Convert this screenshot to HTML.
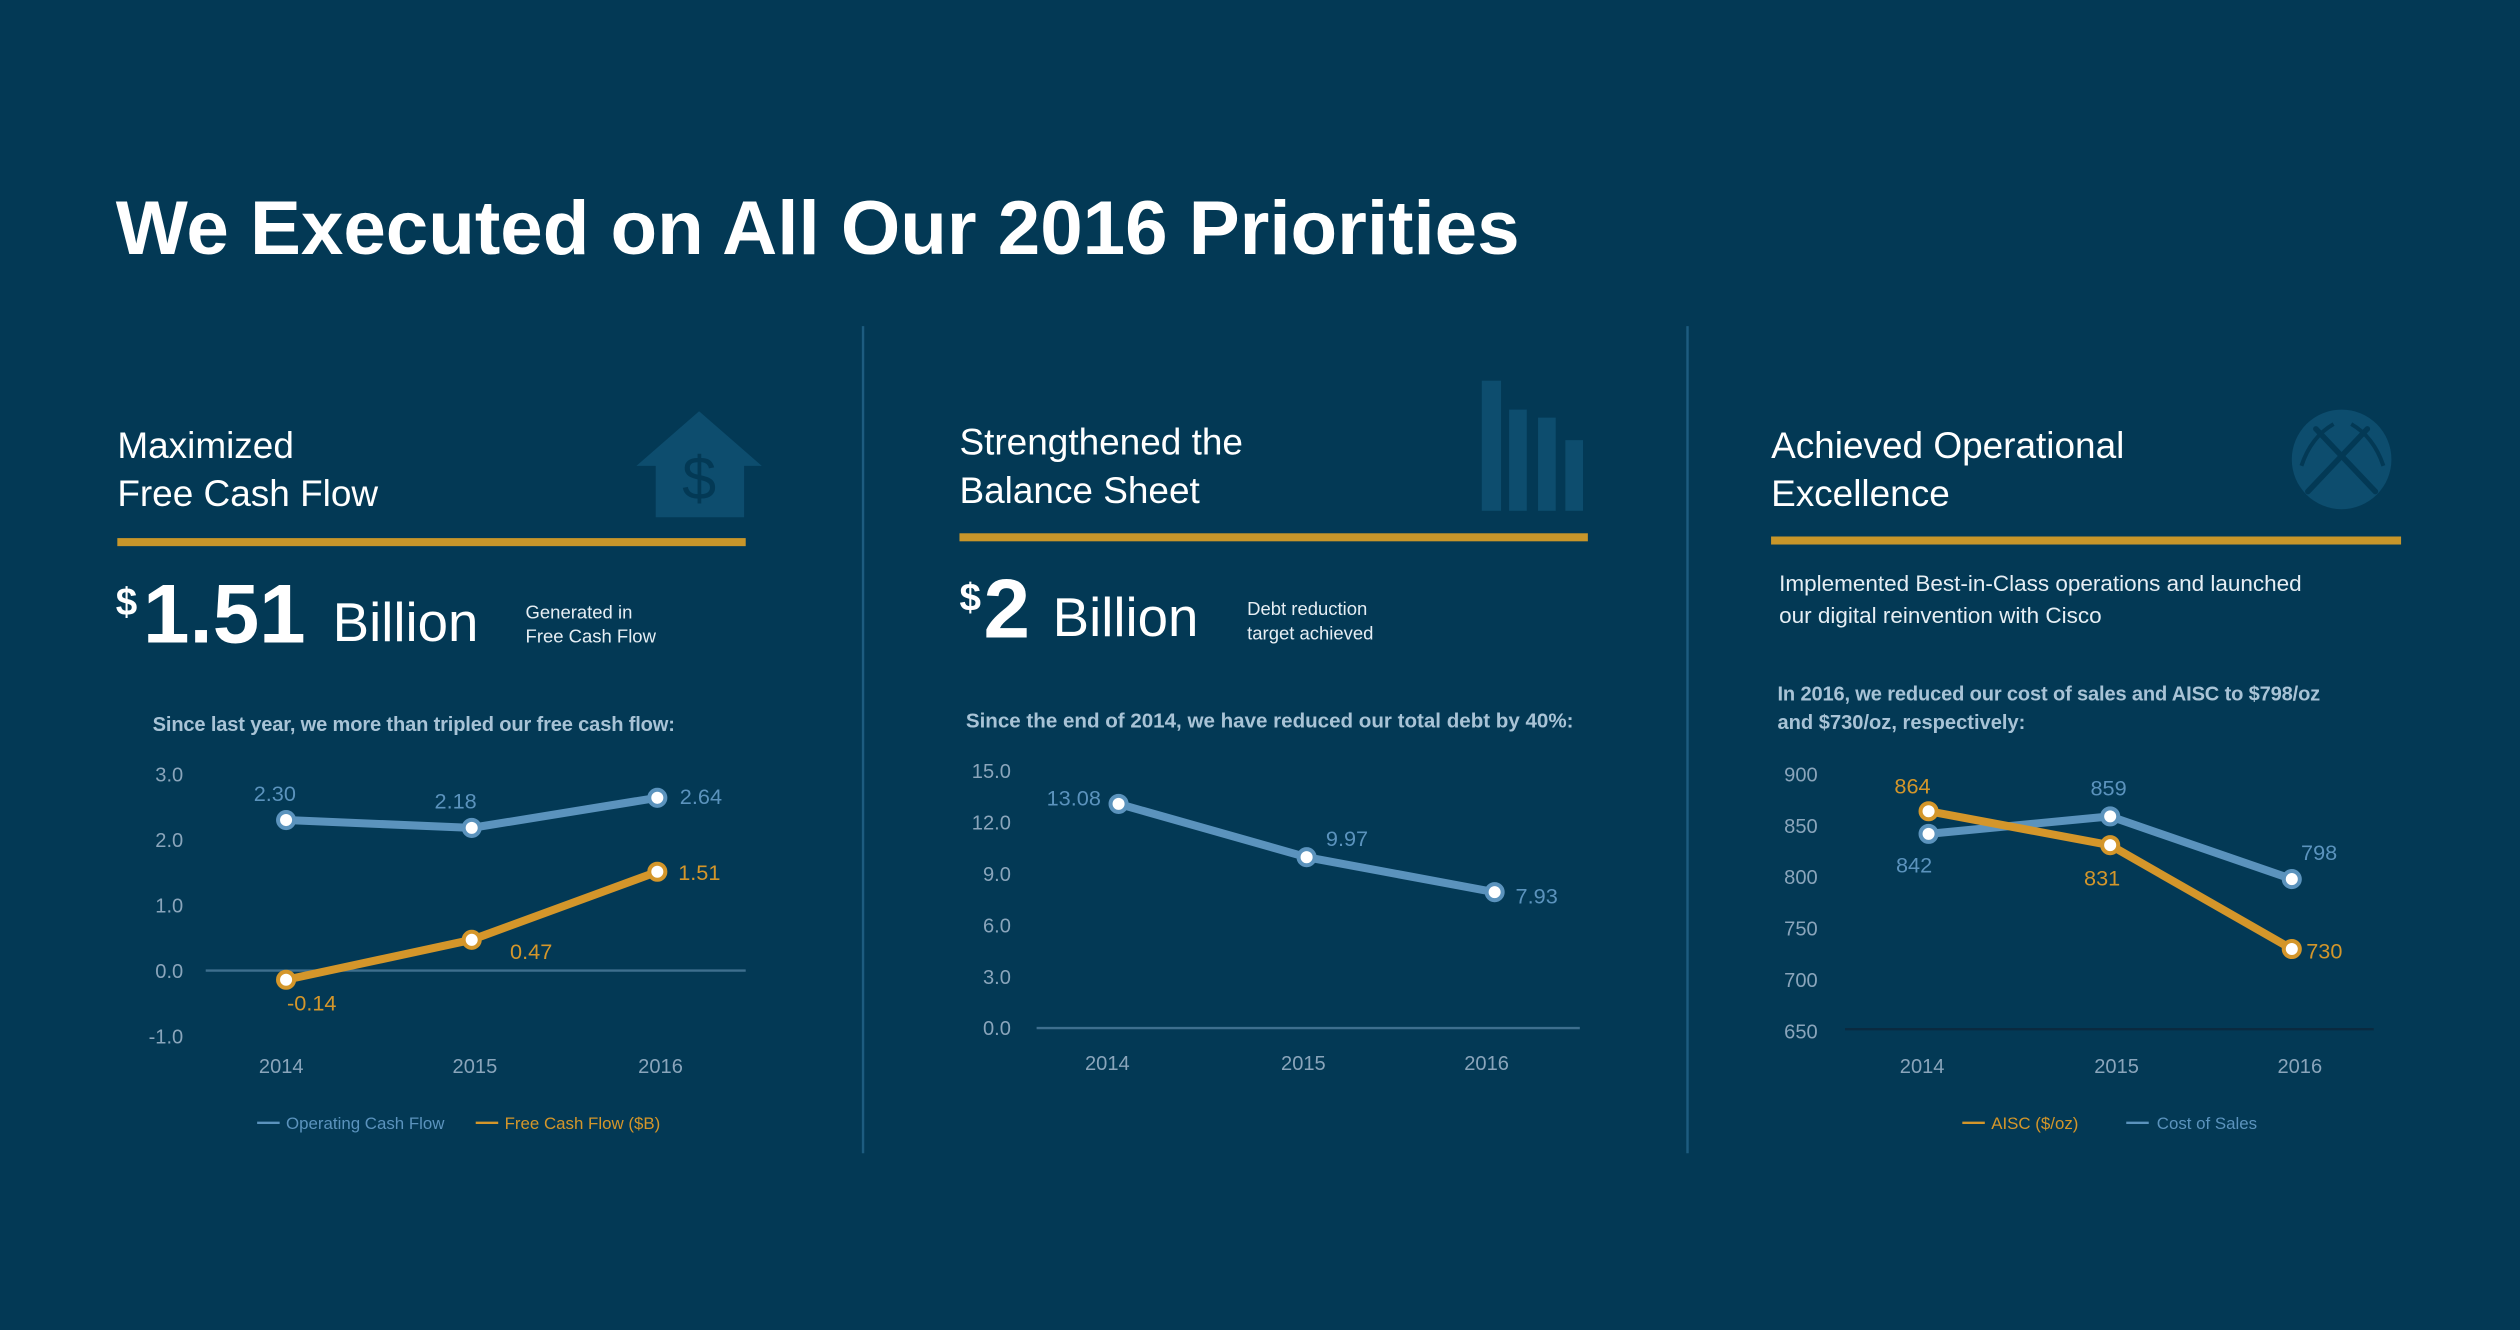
<!DOCTYPE html>
<html><head><meta charset="utf-8">
<style>
html,body{margin:0;padding:0;background:#033955;}
svg{display:block;}
text{font-family:"Liberation Sans",sans-serif;}
</style></head>
<body>
<svg id="s" width="2520" height="1330" viewBox="0 0 1568 828" preserveAspectRatio="none" xmlns="http://www.w3.org/2000/svg">
<rect x="0" y="0" width="1568" height="828" fill="#033955"/>
<text x="72" y="158" font-size="47.5" font-weight="bold" fill="#ffffff">We Executed on All Our 2016 Priorities</text>
<line x1="537" y1="203" x2="537" y2="718" stroke="#1d5c80" stroke-width="1.5"/>
<line x1="1050" y1="203" x2="1050" y2="718" stroke="#1d5c80" stroke-width="1.5"/>

<!-- Panel 1 -->
<g>
<text x="73" y="285" font-size="23" fill="#ffffff">Maximized</text>
<text x="73" y="315" font-size="23" fill="#ffffff">Free Cash Flow</text>
<g fill="#0d4d6e">
<polygon points="396,290 435,256 474,290 463,290 463,322 408,322 408,290"/>
<text x="435" y="311" font-size="38" text-anchor="middle" fill="#033955">$</text>
</g>
<rect x="73" y="335" width="391" height="5" fill="#c8962a"/>
<text x="72" y="383" font-size="24" font-weight="bold" fill="#fff">$</text>
<text x="89" y="400" font-size="52" font-weight="bold" fill="#fff">1.51</text>
<text x="207" y="399" font-size="34" fill="#fff">Billion</text>
<text x="327" y="385" font-size="11.5" fill="#e6eef4">Generated in</text>
<text x="327" y="400" font-size="11.5" fill="#e6eef4">Free Cash Flow</text>
<text x="95" y="455" font-size="12.5" font-weight="bold" fill="#a8c3d6" letter-spacing="-0.1">Since last year, we more than tripled our free cash flow:</text>
<g id="c1"></g>
<g>
<line x1="160" y1="699" x2="174" y2="699" stroke="#5b93bd" stroke-width="1.5"/>
<text x="178" y="703" font-size="10.5" fill="#5b93bd">Operating Cash Flow</text>
<line x1="296" y1="699" x2="310" y2="699" stroke="#d4962a" stroke-width="1.5"/>
<text x="314" y="703" font-size="10.5" fill="#d4962a">Free Cash Flow ($B)</text>
</g>
</g>

<!-- Panel 2 -->
<g>
<text x="597" y="283" font-size="23" fill="#ffffff">Strengthened the</text>
<text x="597" y="313" font-size="23" fill="#ffffff">Balance Sheet</text>
<g fill="#0d4d6e">
<rect x="922" y="237" width="12" height="81"/>
<rect x="939" y="255" width="11" height="63"/>
<rect x="957" y="260" width="11" height="58"/>
<rect x="974" y="274" width="11" height="44"/>
</g>
<rect x="597" y="332" width="391" height="5" fill="#c8962a"/>
<text x="597" y="380" font-size="24" font-weight="bold" fill="#fff">$</text>
<text x="612" y="397" font-size="52" font-weight="bold" fill="#fff">2</text>
<text x="655" y="396" font-size="34" fill="#fff">Billion</text>
<text x="776" y="383" font-size="11.5" fill="#e6eef4">Debt reduction</text>
<text x="776" y="398" font-size="11.5" fill="#e6eef4">target achieved</text>
<text x="601" y="453" font-size="12.8" font-weight="bold" fill="#a8c3d6">Since the end of 2014, we have reduced our total debt by 40%:</text>
<g id="c2"></g>
</g>

<!-- Panel 3 -->
<g>
<text x="1102" y="285" font-size="23" fill="#ffffff">Achieved Operational</text>
<text x="1102" y="315" font-size="23" fill="#ffffff">Excellence</text>
<g>
<circle cx="1457" cy="286" r="31" fill="#0d4d6e"/>
<line x1="1436" y1="306" x2="1473" y2="267" stroke="#033955" stroke-width="3.5" stroke-linecap="round"/>
<line x1="1478" y1="306" x2="1441" y2="267" stroke="#033955" stroke-width="3.5" stroke-linecap="round"/>
<path d="M1432 290 Q1438 272 1452 264" stroke="#033955" stroke-width="2.5" fill="none"/>
<path d="M1483 290 Q1477 272 1463 264" stroke="#033955" stroke-width="2.5" fill="none"/>
</g>
<rect x="1102" y="334" width="392" height="5" fill="#c8962a"/>
<text x="1107" y="368" font-size="14" fill="#e6eef4">Implemented Best-in-Class operations and launched</text>
<text x="1107" y="388" font-size="14" fill="#e6eef4">our digital reinvention with Cisco</text>
<text x="1106" y="436" font-size="12.5" font-weight="bold" fill="#a8c3d6" letter-spacing="-0.1">In 2016, we reduced our cost of sales and AISC to $798/oz</text>
<text x="1106" y="454" font-size="12.5" font-weight="bold" fill="#a8c3d6">and $730/oz, respectively:</text>
<g id="c3"></g>
<g>
<line x1="1221" y1="699" x2="1235" y2="699" stroke="#d4962a" stroke-width="1.5"/>
<text x="1239" y="703" font-size="10.5" fill="#d4962a">AISC ($/oz)</text>
<line x1="1323" y1="699" x2="1337" y2="699" stroke="#5b93bd" stroke-width="1.5"/>
<text x="1342" y="703" font-size="10.5" fill="#5b93bd">Cost of Sales</text>
</g>
</g>
</svg>
<script>
// Chart 1 data
var years = ["2014","2015","2016"];
var cfTicks = [3.0, 2.0, 1.0, 0.0, -1.0];
var cfTickLabels = ["3.0","2.0","1.0","0.0","-1.0"];
var operatingCashFlow = [2.30, 2.18, 2.64];
var freeCashFlow = [-0.14, 0.47, 1.51];
// Chart 2 data
var debtTicks = [15, 12, 9, 6, 3, 0];
var debtTickLabels = ["15.0","12.0","9.0","6.0","3.0","0.0"];
var totalDebt = [13.08, 9.97, 7.93];
// Chart 3 data
var costTicks = [900, 850, 800, 750, 700, 650];
var costTickLabels = ["900","850","800","750","700","650"];
var aisc = [864, 831, 730];
var costOfSales = [842, 859, 798];

var NS = "http://www.w3.org/2000/svg";
var BLUE = "#5b93bd", GOLD = "#d4962a", TICK = "#8aa5bb";
function mk(parent, tag, attrs, txt){
  var e = document.createElementNS(NS, tag);
  for (var k in attrs) e.setAttribute(k, attrs[k]);
  if (txt !== undefined) e.textContent = txt;
  parent.appendChild(e);
  return e;
}
function linScale(d0, d1, r0, r1){ return function(v){ return r0 + (v - d0) * (r1 - r0) / (d1 - d0); }; }

function drawChart(gid, cfg){
  var g = document.getElementById(gid);
  var y = linScale(cfg.ymin, cfg.ymax, cfg.yb, cfg.yt);
  var x = function(i){ return cfg.xs0 + i * cfg.xstep; };
  cfg.ticks.forEach(function(t, i){
    var tl = mk(g, "text", {x: cfg.tickX, y: y(t) + 4.5, "font-size": 12.5, fill: TICK, "text-anchor": "end"}, cfg.tickLabels[i]);
    
    
  });
  var ax = mk(g, "line", {x1: cfg.ax0, x2: cfg.ax1, y1: y(cfg.axisVal), y2: y(cfg.axisVal), stroke: cfg.axisColor, "stroke-width": 1.5});
  
  
  years.forEach(function(yr, i){
    var xl = mk(g, "text", {x: x(i) + (cfg.xlOff[i] || 0), y: cfg.xlY, "font-size": 12.5, fill: TICK, "text-anchor": "middle"}, yr);
    
    
  });
  cfg.series.forEach(function(s){
    var pts = s.values.map(function(v, i){ return x(i) + "," + y(v); }).join(" ");
    var pl = mk(g, "polyline", {points: pts, fill: "none", stroke: s.color, "stroke-width": 5, "stroke-linejoin": "round", "stroke-linecap": "round"});
    
    
  });
  cfg.series.forEach(function(s){
    s.values.forEach(function(v, i){
      var c = mk(g, "circle", {cx: x(i), cy: y(v), r: 5, fill: "#ffffff", stroke: s.color, "stroke-width": 2.5});
      
      
      var o = s.lab[i];
      var lt = mk(g, "text", {x: x(i) + o[0], y: y(v) + o[1], "font-size": 13.5, fill: s.color, "text-anchor": o[2]}, s.fmt(v));
      
      
    });
  });
}
function f2(v){ return v.toFixed(2); }
function f0(v){ return String(Math.round(v)); }

drawChart("c1", {ymin: -1, ymax: 3, yb: 645, yt: 482, xs0: 178, xstep: 115.5, tickX: 114,
  ax0: 128, ax1: 464, axisVal: 0, axisColor: "#3e6f8e", xlY: 668, xlOff: [-3, 2, 2],
  ticks: cfTicks, tickLabels: cfTickLabels,
  series: [
    {name: "operating-cash-flow", values: operatingCashFlow, color: BLUE, fmt: f2,
     lab: [[-7, -12, "middle"], [-10, -12, "middle"], [14, 4, "start"]]},
    {name: "free-cash-flow", values: freeCashFlow, color: GOLD, fmt: f2,
     lab: [[16, 19, "middle"], [37, 12, "middle"], [13, 5, "start"]]}
  ]});

drawChart("c2", {ymin: 0, ymax: 15, yb: 640, yt: 480, xs0: 696, xstep: 117, tickX: 629,
  ax0: 645, ax1: 983, axisVal: 0, axisColor: "#3e6f8e", xlY: 666, xlOff: [-7, -2, -5],
  ticks: debtTicks, tickLabels: debtTickLabels,
  series: [
    {name: "total-debt", values: totalDebt, color: BLUE, fmt: f2,
     lab: [[-11, 1, "end"], [12, -7, "start"], [13, 7, "start"]]}
  ]});

drawChart("c3", {ymin: 650, ymax: 900, yb: 642, yt: 482, xs0: 1200, xstep: 113, tickX: 1131,
  ax0: 1148, ax1: 1477, axisVal: 652, axisColor: "#0a2a40", xlY: 668, xlOff: [-4, 4, 5],
  ticks: costTicks, tickLabels: costTickLabels,
  series: [
    {name: "cost-of-sales", values: costOfSales, color: BLUE, fmt: f0,
     lab: [[-9, 24, "middle"], [-1, -13, "middle"], [17, -12, "middle"]]},
    {name: "aisc", values: aisc, color: GOLD, fmt: f0,
     lab: [[-10, -11, "middle"], [-5, 25, "middle"], [9, 6, "start"]]}
  ]});
</script>
</body></html>
